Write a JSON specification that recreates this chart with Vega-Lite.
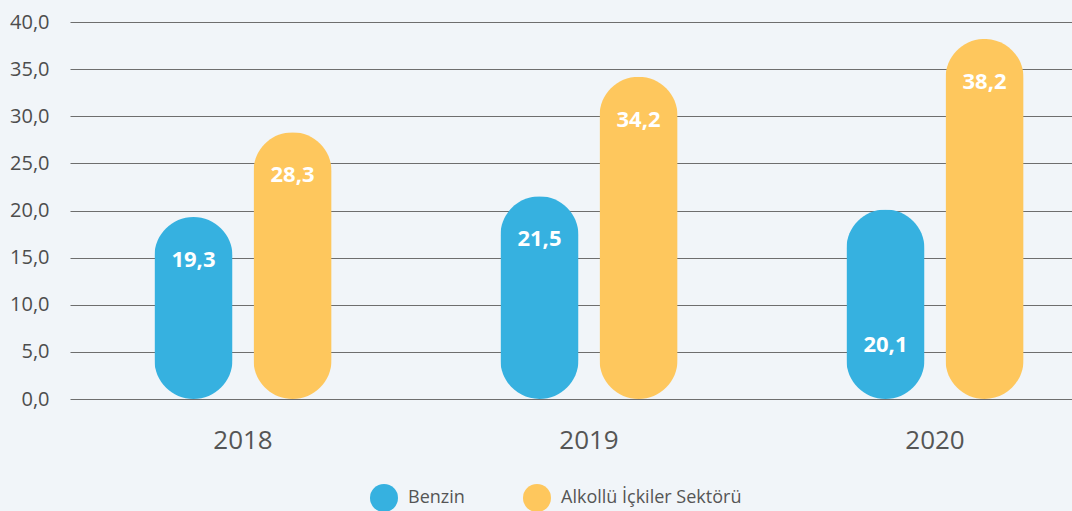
{
  "$schema": "https://vega.github.io/schema/vega-lite/v6.json",
  "autosize": {"type": "none"},
  "width": 1038,
  "height": 377,
  "padding": {"left": 70, "top": 22, "right": 0, "bottom": 112},
  "background": "#f1f5f9",
  "config": {
    "view": {"stroke": null},
    "font": "Open Sans",
    "locale": {"number": {"decimal": ",", "thousands": ".", "grouping": [3], "currency": ["", " ₺"]}}
  },
  "data": {
    "values": [
      {"year": "2018", "series": "Benzin", "value": 19.3},
      {"year": "2018", "series": "Alkollü İçkiler Sektörü", "value": 28.3},
      {"year": "2019", "series": "Benzin", "value": 21.5},
      {"year": "2019", "series": "Alkollü İçkiler Sektörü", "value": 34.2},
      {"year": "2020", "series": "Benzin", "value": 20.1},
      {"year": "2020", "series": "Alkollü İçkiler Sektörü", "value": 38.2}
    ]
  },
  "encoding": {
    "x": {
      "field": "year", "type": "nominal",
      "scale": {"paddingInner": 0.488, "paddingOuter": 0.244},
      "axis": {"title": null, "domain": false, "ticks": false, "labelAngle": 0, "labelFontSize": 26, "labelColor": "#555555", "labelPadding": 28, "labelFont": "Open Sans"}
    },
    "xOffset": {
      "field": "series", "type": "nominal",
      "sort": ["Benzin", "Alkollü İçkiler Sektörü"],
      "scale": {"paddingInner": 0.212, "paddingOuter": 0}
    }
  },
  "layer": [
    {
      "mark": {"type": "bar", "cornerRadius": 39},
      "encoding": {
        "y": {
          "field": "value", "type": "quantitative",
          "scale": {"domain": [0, 40], "nice": false},
          "axis": {"title": null, "values": [0, 5, 10, 15, 20, 25, 30, 35, 40], "format": ".1f", "domain": false, "ticks": false, "labelFontSize": 20, "labelColor": "#4d4d4d", "labelPadding": 21, "gridColor": "#6e6e6e", "gridWidth": 1.2, "gridOpacity": 1}
        },
        "color": {
          "field": "series", "type": "nominal",
          "sort": ["Benzin", "Alkollü İçkiler Sektörü"],
          "scale": {"domain": ["Benzin", "Alkollü İçkiler Sektörü"], "range": ["#36b1e0", "#fec75d"]},
          "legend": {
            "title": null, "orient": "none", "direction": "horizontal",
            "legendX": 299, "legendY": 461,
            "symbolType": "circle", "symbolSize": 784, "symbolOpacity": 1,
            "labelFontSize": 18, "labelColor": "#555555", "labelOffset": 9, "labelLimit": 400,
            "columnPadding": 57, "labelFont": "Open Sans"
          }
        }
      }
    },
    {
      "transform": [{"filter": "!(datum.year == '2020' && datum.series == 'Benzin')"}],
      "mark": {"type": "text", "color": "white", "fontWeight": "bold", "fontSize": 22, "baseline": "middle", "dy": 43},
      "encoding": {
        "y": {"field": "value", "type": "quantitative"},
        "text": {"field": "value", "type": "quantitative", "format": ".1f"}
      }
    },
    {
      "transform": [{"filter": "datum.year == '2020' && datum.series == 'Benzin'"}],
      "mark": {"type": "text", "color": "white", "fontWeight": "bold", "fontSize": 22, "baseline": "middle"},
      "encoding": {
        "y": {"datum": 5.7, "type": "quantitative"},
        "text": {"field": "value", "type": "quantitative", "format": ".1f"}
      }
    }
  ]
}
